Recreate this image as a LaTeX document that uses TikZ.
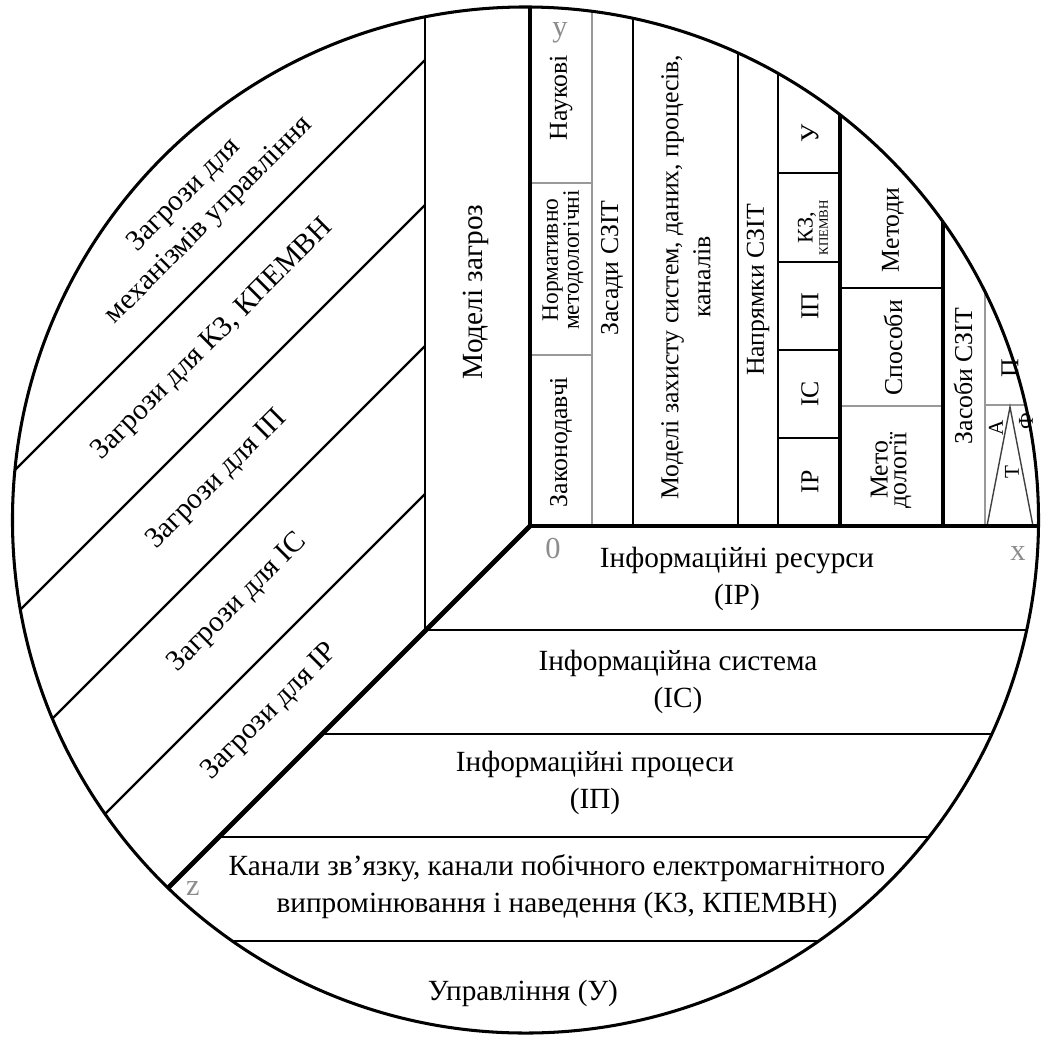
\documentclass[tikz,border=0pt]{standalone}
\usepackage{fontspec}
\setmainfont{Liberation Serif}
\begin{document}
\begin{tikzpicture}[x=0.015cm, y=-0.015cm,
    axis/.style={line width=2.1pt},
    rim/.style={line width=1.3pt},
    sep/.style={line width=1pt},
    thinsep/.style={line width=0.6pt},
    faint/.style={line width=0.5pt, black!40},
    band/.style={font=\fontsize{12.5}{15.7}\selectfont, align=center},
    cell/.style={font=\fontsize{11}{13.6}\selectfont, align=center, rotate=90, inner sep=0pt},
    threat/.style={font=\fontsize{12.5}{15}\selectfont, align=center, rotate=45},
    axlabel/.style={font=\fontsize{13}{15}\selectfont, text=black!45}]
    \useasboundingbox (0,0) rectangle (1043,1046);
    \begin{scope}
        \clip (525.5,520) circle [radius=7.695cm];
        \draw[faint] (592,0) -- (592,526) (985,0) -- (985,526);
        \draw[faint] (530,183) -- (592,183) (530,355) -- (592,355);
        \draw[faint] (840,406) -- (943,406) (985,405) -- (1060,405);
        \draw[thinsep, black!75] (987,526) -- (1010,407) -- (1033,526);
        \draw[thinsep] (778,0) -- (778,526);
        \foreach \h in {173,262,350,438}
            \draw[thinsep] (778,\h) -- (840,\h);
        \draw[sep] (840,288) -- (943,288);
        \draw[sep] (425,0) -- (425,631) (633,0) -- (633,526) (738,0) -- (738,526);
        \draw[line width=1.3pt] (840,0) -- (840,526) (943,0) -- (943,526);
        \foreach \c in {485,630,771,919}
            \draw[sep] (425,\c-425) -- (-100,\c+100);
        \foreach \h in {630,734,837,941}
            \draw[sep] (1056-\h,\h) -- (1100,\h);
        \draw[axis] (530,-10) -- (530,526) -- (1100,526);
        \draw[axis] (530,526) -- (-100,1156);
    \end{scope}
    \draw[rim] (525.5,520) circle [radius=7.695cm];

    \node[cell, font=\fontsize{12.5}{15}\selectfont] (modzagr) at (476,292) {Моделі загроз};
    \node[cell] (naukovi) at (561,98) {Наукові};
    \node[cell, font=\fontsize{10}{9}\selectfont] (normat) at (563,260) {Нормативно\\методологічні};
    \node[cell] (zakon) at (561,442) {Законодавчі};
    \node[cell] (zasady) at (612,268) {Засади СЗІТ};
    \node[cell] (modzah) at (686,277) {Моделі захисту систем, даних, процесів,\\каналів};
    \node[cell] (napr) at (758,290) {Напрямки СЗІТ};
    \node[cell] (u) at (810,133) {У};
    \node[cell, font=\fontsize{9.5}{6.5}\selectfont] (kz) at (813,228) {КЗ,\\{\fontsize{5.5}{6}\selectfont КПЕМВН}};
    \node[cell] (ip) at (810,306) {ІП};
    \node[cell] (is) at (810,394) {ІС};
    \node[cell] (ir) at (810,482) {ІР};
    \node[cell] (metody) at (893,230) {Методи};
    \node[cell] (sposoby) at (893,348) {Способи};
    \node[cell, font=\fontsize{11}{8}\selectfont] (metodol) at (891,470) {Мето\\дології};
    \node[cell] (zasoby) at (963,376) {Засоби СЗІТ};
    \node[cell] (p) at (1010,368) {П};
    \node[cell, font=\fontsize{9}{10}\selectfont] (a) at (996,428) {А};
    \node[cell, font=\fontsize{9}{10}\selectfont] (f) at (1026,421) {Ф};
    \node[cell, font=\fontsize{9}{10}\selectfont] (t) at (1012,472) {Т};

    \node[band] (resursy) at (737,579) {Інформаційні ресурси\\(ІР)};
    \node[band] (systema) at (678,682) {Інформаційна система\\(ІС)};
    \node[band] (procesy) at (595,783) {Інформаційні процеси\\(ІП)};
    \node[band] (kanaly) at (557,887) {Канали зв’язку, канали побічного електромагнітного\\випромінювання і наведення (КЗ, КПЕМВН)};
    \node[band] (upravl) at (523,993) {Управління (У)};

    \node[threat] (zmech) at (197,208) {Загрози для\\механізмів управління};
    \node[threat] (zkz) at (213,340) {Загрози для КЗ, КПЕМВН};
    \node[threat] (zip) at (217,480) {Загрози для ІП};
    \node[threat] (zis) at (238,603) {Загрози для ІС};
    \node[threat] (zir) at (270,712) {Загрози для ІР};

    \node[axlabel] (ylab) at (560,33) {y};
    \node[axlabel] (olab) at (553,549) {0};
    \node[axlabel] (xlab) at (1018,553) {x};
    \node[axlabel] (zlab) at (193,888) {z};
\end{tikzpicture}
\end{document}
